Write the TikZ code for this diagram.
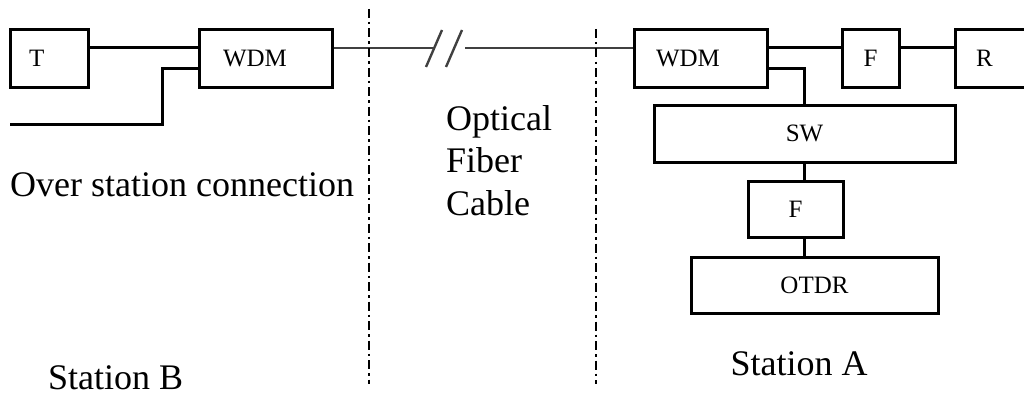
\documentclass[tikz,border=0pt]{standalone}
\usepackage{fontspec}
\setmainfont{Liberation Serif}
\begin{document}
\begin{tikzpicture}[x=1pt,y=-1pt,
  box/.style={draw, line width=3pt, rectangle, minimum height=57pt, inner ysep=0pt,
    font=\fontsize{25}{30}\selectfont},
  wire/.style={line width=3pt},
  cable/.style={line width=2.4pt, draw=black!75},
  divider/.style={line width=2.8pt, dash pattern=on 9pt off 4pt on 2.5pt off 4pt},
  bigtext/.style={font=\fontsize{36}{42.5}\selectfont, inner sep=0pt}]
\useasboundingbox (0,0) rectangle (1024,396);

% Station B
\node[box, minimum width=78pt, inner xsep=19pt, text width=40pt, align=left] (T) at (49,58.5) {T};
\node[box, minimum width=133pt, inner xsep=24pt, text width=85pt, align=left] (WDMb) at (265.5,58.5) {WDM};

% Station A
\node[box, minimum width=133pt, inner xsep=22pt, text width=89pt, align=left] (WDMa) at (700.5,58.5) {WDM};
\node[box, minimum width=57pt, inner xsep=0pt] (F1) at (870.5,58.5) {F};
\node[box, minimum width=100pt, inner xsep=21pt, text width=58pt, align=left] (R) at (1005,58.5) {R};
\node[box, minimum width=301pt, inner xsep=0pt] (SW) at (804.5,133.5) {SW};
\node[box, minimum width=95pt, minimum height=56pt, inner xsep=0pt] (F2) at (795.5,209) {F};
\node[box, minimum width=247pt, minimum height=56pt, inner xsep=0pt] (OTDR) at (814.5,285) {OTDR};

% connectors
\draw[wire] ([yshift=10.5pt]T.east) -- ([yshift=10.5pt]WDMb.west);
\coordinate (os) at (10,124);
\draw[wire] (os) -- ++(152,0) |- ([yshift=-9.5pt]WDMb.west);

\coordinate (cut1) at (434,48);
\coordinate (cut2) at (465,48);
\draw[cable] ([yshift=10.5pt]WDMb.east) -- (cut1);
\draw[cable] (cut2) -- ([yshift=10.5pt]WDMa.west);
\coordinate (s1a) at (426,67); \coordinate (s1b) at (442,30);
\coordinate (s2a) at (446,67); \coordinate (s2b) at (462,30);
\draw[cable] (s1a) -- (s1b);
\draw[cable] (s2a) -- (s2b);

\draw[wire] ([yshift=10.5pt]WDMa.east) -- ([yshift=10.5pt]F1.west);
\draw[wire] ([yshift=10.5pt]F1.east) -- ([yshift=10.5pt]R.west);
\draw[wire] ([yshift=-9.5pt]WDMa.east) -| ([xshift=-0.5pt]SW.north);
\draw[wire] ([xshift=-0.5pt]SW.south) -- ([xshift=-0.5pt]SW.south |- F2.north);
\draw[wire] ([xshift=-0.5pt]SW.south |- F2.south) -- ([xshift=-0.5pt]SW.south |- OTDR.north);

% dividers
\coordinate (d1t) at (369,9); \coordinate (d1b) at (369,384);
\coordinate (d2t) at (596,29); \coordinate (d2b) at (596,384);
\draw[divider] (d1t) -- (d1b);
\draw[divider] (d2t) -- (d2b);

% texts
\node[bigtext, anchor=base west] (osc) at (10,196) {Over station connection};
\node[bigtext, anchor=base west, align=left] (ofc) at (446,215) {Optical\\Fiber\\Cable};
\node[bigtext, anchor=base] (sta) at (799,375) {Station A};
\node[bigtext, anchor=base west] (stb) at (48,389) {Station B};
\end{tikzpicture}
\end{document}
